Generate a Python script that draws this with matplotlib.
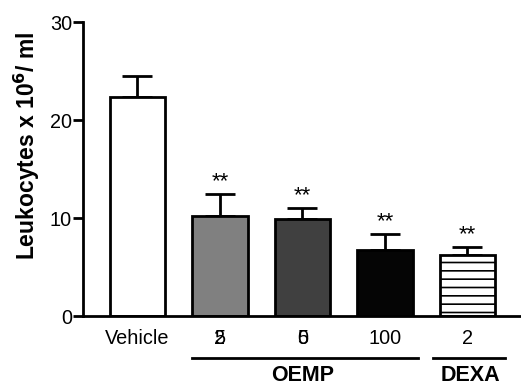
import matplotlib
matplotlib.use('Agg')
import matplotlib.pyplot as plt

plt.rcParams['font.family'] = ['Liberation Sans', 'DejaVu Sans']
plt.rcParams['hatch.linewidth'] = 1.2

# data
groups = ['Vehicle', '25', '50', '100', '2']
means = [22.3, 10.2, 9.9, 6.7, 6.2]
errs = [2.2, 2.2, 1.15, 1.7, 0.8]
stars = ['', '**', '**', '**', '**']
faces = ['white', '#808080', '#404040', '#050505', 'white']
hatches = ['', '', '', '', '--']

fig = plt.figure(figsize=(5.21, 3.86), dpi=100)
ax = fig.add_axes([83/521, 70/386, 1 - 83/521, (316-22)/386])

fs = 14.3
x = list(range(len(groups)))
ax.bar(x, means, width=0.67, color=faces, edgecolor='black', linewidth=2,
       hatch=hatches, zorder=2)
# only the upper half of the error bars
ax.errorbar(x, means, yerr=[[0]*len(errs), errs], fmt='none', ecolor='black',
            elinewidth=2, capsize=11, capthick=2, zorder=1)
for xi, m, e, s in zip(x, means, errs, stars):
    if s:
        ax.text(xi, m + e + 0.2, s, ha='center', va='bottom', fontsize=16)

ax.set_ylim(0, 30)
ax.set_yticks([0, 10, 20, 30])
ax.set_xlim(-0.66, 4.65)
ax.set_xticks([])
ax.tick_params(axis='y', length=7, width=2, labelsize=fs, pad=1)
for sp in ['top', 'right']:
    ax.spines[sp].set_visible(False)
ax.spines['left'].set_linewidth(2)
ax.spines['bottom'].set_linewidth(2)
ax.set_ylabel('Leukocytes x 10$^\\mathbf{6}$/ ml', fontsize=16.5,
              fontweight='bold', va='center')
ax.yaxis.set_label_coords(-0.128, 0.58)

# tick labels under the bars (first two show overlapping digits)
lab_y = -2.25
ax.text(0, lab_y, 'Vehicle', ha='center', va='center', fontsize=fs)
ax.text(1, lab_y, '2', ha='center', va='center', fontsize=fs)
ax.text(1, lab_y, '5', ha='center', va='center', fontsize=fs)
ax.text(2, lab_y, '5', ha='center', va='center', fontsize=fs)
ax.text(2, lab_y, '0', ha='center', va='center', fontsize=fs)
ax.text(3, lab_y, '100', ha='center', va='center', fontsize=fs)
ax.text(4, lab_y, '2', ha='center', va='center', fontsize=fs)

# group lines and names
line_y = -4.3
ax.plot([0.665, 3.4], [line_y, line_y], color='black', lw=2, clip_on=False)
ax.plot([3.58, 4.46], [line_y, line_y], color='black', lw=2, clip_on=False)
ax.text(2.0, -6.1, 'OEMP', ha='center', va='center', fontsize=15.5,
        fontweight='bold')
ax.text(4.04, -6.1, 'DEXA', ha='center', va='center', fontsize=15.5,
        fontweight='bold')

fig.savefig('out.png', dpi=100)
